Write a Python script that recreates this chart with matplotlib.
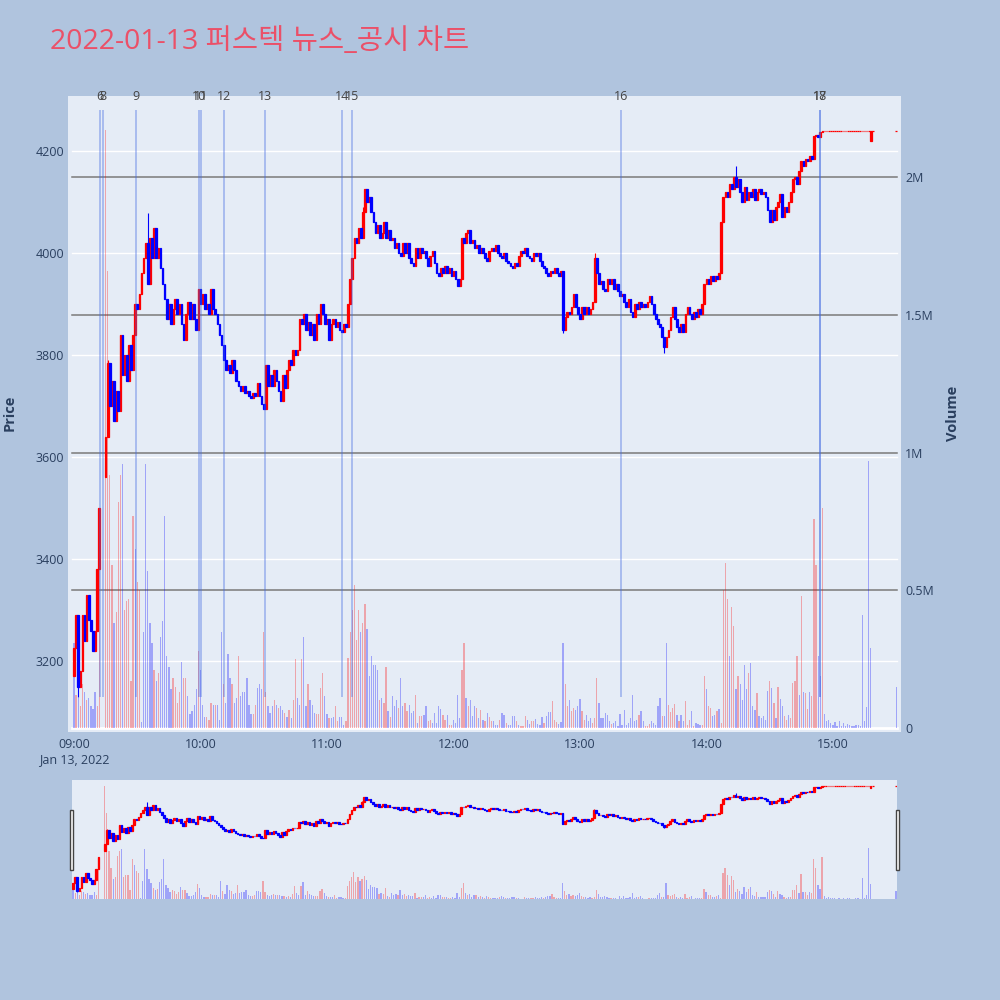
import numpy as np
import matplotlib.pyplot as plt
from matplotlib.transforms import blended_transform_factory
from matplotlib.patches import Rectangle

nan = np.nan

# minute closes, 09:00 .. 15:30 (index = minutes after 09:00)
close_px = [
    3225, 3290, 3150, 3180, 3290, 3240, 3330, 3280, 3260, 3220, 3260, 3380, 3500, nan, nan,
    3640, 3785, 3700, 3750, 3670, 3730, 3690, 3840, 3760, 3800, 3750, 3820, 3770, 3840, 3900,
    3890, 3920, 3960, 3990, 4020, 3940, 4030, 3990, 4050, 3990, 4010, 3970, 3940, 3910, 3870,
    3900, 3860, 3890, 3910, 3880, 3900, 3860, 3830, 3880, 3905, 3870, 3900, 3870, 3850, 3930,
    3900, 3920, 3890, 3900, 3880, 3930, 3890, 3880, 3860, 3840, 3820, 3790, 3770, 3780, 3765,
    3790, 3770, 3750, 3740, 3730, 3740, 3725, 3730, 3720, 3715, 3725, 3720, 3745, 3720, 3705,
    3695, 3780, 3740, 3760, 3740, 3770, 3750, 3730, 3710, 3760, 3735, 3770, 3790, 3780, 3810,
    3800, 3810, 3870, 3860, 3880, 3850, 3865, 3840, 3860, 3830, 3880, 3860, 3900, 3880, 3860,
    3870, 3830, 3860, 3870, 3855, 3865, 3850, 3845, 3860, 3855, 3900, 3950, 3990, 4030, 4020,
    4050, 4030, 4080, 4125, 4100, 4110, 4080, 4060, 4040, 4055, 4030, 4040, 4060, 4030, 4045,
    4025, 4030, 4010, 4020, 4000, 3995, 4020, 4000, 4020, 3990, 3980, 3975, 4010, 3990, 4010,
    4000, 4005, 3990, 3975, 3995, 4005, 3980, 3960, 3955, 3970, 3960, 3975, 3960, 3970, 3955,
    3965, 3950, 3935, 3950, 4030, 4020, 4040, 4045, 4020, 4025, 4010, 4015, 4000, 4010, 4000,
    3990, 3985, 4005, 4010, 4005, 4015, 4000, 3995, 3990, 4000, 3985, 3980, 3975, 3970, 3980,
    3975, 3995, 4005, 4000, 4010, 3995, 3990, 3985, 4000, 3995, 4000, 3985, 3975, 3970, 3960,
    3955, 3965, 3960, 3970, 3960, 3955, 3965, 3850, 3875, 3885, 3880, 3895, 3920, 3895, 3880,
    3870, 3895, 3880, 3895, 3880, 3890, 3905, 3990, 3960, 3940, 3945, 3930, 3925, 3950, 3940,
    3950, 3930, 3940, 3925, 3915, 3920, 3905, 3895, 3910, 3885, 3875, 3900, 3890, 3905, 3895,
    3900, 3895, 3905, 3915, 3900, 3880, 3870, 3860, 3855, 3835, 3815, 3835, 3850, 3875, 3895,
    3870, 3855, 3845, 3860, 3845, 3880, 3895, 3880, 3870, 3885, 3875, 3890, 3880, 3900, 3940,
    3950, 3940, 3955, 3945, 3955, 3950, 3960, 4060, 4110, 4120, 4110, 4135, 4125, 4150, 4130,
    4145, 4120, 4100, 4130, 4105, 4120, 4110, 4125, 4105, 4120, 4125, 4115, 4120, 4110, 4085,
    4060, 4085, 4065, 4090, 4100, 4115, 4070, 4090, 4080, 4100, 4120, 4145, 4150, 4135, 4160,
    4180, 4170, 4185, 4180, 4190, 4185, 4230, 4232, 4228, 4238, 4240, 4240, 4240, 4240, 4240,
    4240, 4240, 4240, 4240, 4240, 4240, 4240, 4240, 4240, 4240, 4240, 4240, 4240, 4240, 4240,
    4240, 4240, 4240, 4240, 4240, nan, nan, nan, nan, nan, nan, nan, nan, nan, nan,
    4240,
]
# opens that differ from the previous close (first trade, after VI halt, etc.)
open_fix = {0: 3170, 15: 3560, 378: 4220, 390: 4240}
wick_hi = {16: 3790, 35: 4078, 137: 4090, 247: 4000, 314: 4170}
wick_lo = {2: 3130, 15: 3560, 91: 3700, 232: 3843, 280: 3805}

# volume in millions of shares, colour r = up / b = down
vol_m = [
    0.31, 0.12, 0.11, 0.08, 0.16, 0.13, 0.10, 0.11, 0.08, 0.07, 0.13, 0.08, 0.80, nan, nan,
    2.17, 1.66, 0.92, 0.59, 0.38, 0.42, 0.82, 0.92, 0.96, 0.43, 0.46, 0.47, 0.17, 0.77, 0.65,
    0.53, 0.50, 0.02, 0.35, 0.96, 0.57, 0.38, 0.31, 0.21, 0.17, 0.20, 0.33, 0.39, 0.77, 0.26,
    0.22, 0.14, 0.18, 0.15, 0.09, 0.13, 0.24, 0.18, 0.18, 0.115, 0.05, 0.06, 0.085, 0.14, 0.28,
    0.21, 0.085, 0.04, 0.04, 0.03, 0.09, 0.085, 0.085, 0.085, 0.03, 0.35, 0.16, 0.09, 0.27, 0.18,
    0.16, 0.09, 0.11, 0.26, 0.115, 0.13, 0.13, 0.18, 0.085, 0.05, 0.05, 0.085, 0.145, 0.16, 0.14,
    0.35, 0.13, 0.08, 0.055, 0.08, 0.10, 0.085, 0.073, 0.08, 0.067, 0.055, 0.04, 0.067, 0.036, 0.10,
    0.25, 0.11, 0.085, 0.25, 0.33, 0.08, 0.16, 0.10, 0.085, 0.055, 0.05, 0.05, 0.145, 0.20, 0.115,
    0.05, 0.036, 0.036, 0.04, 0.08, 0.024, 0.04, 0.04, 0.012, 0.024, 0.255, 0.35, 0.43, 0.52, 0.32,
    0.43, 0.35, 0.38, 0.45, 0.36, 0.19, 0.26, 0.23, 0.23, 0.21, 0.10, 0.11, 0.09, 0.22, 0.06,
    0.04, 0.115, 0.08, 0.10, 0.073, 0.18, 0.08, 0.09, 0.06, 0.085, 0.055, 0.06, 0.12, 0.018, 0.042,
    0.042, 0.048, 0.08, 0.024, 0.03, 0.018, 0.055, 0.018, 0.08, 0.07, 0.048, 0.03, 0.048, 0.012, 0.012,
    0.03, 0.018, 0.12, 0.036, 0.21, 0.31, 0.11, 0.08, 0.10, 0.042, 0.08, 0.073, 0.036, 0.067, 0.03,
    0.024, 0.055, 0.04, 0.024, 0.024, 0.012, 0.012, 0.03, 0.055, 0.048, 0.018, 0.012, 0.012, 0.042, 0.045,
    0.024, 0.012, 0.006, 0.006, 0.045, 0.028, 0.016, 0.024, 0.024, 0.033, 0.016, 0.012, 0.04, 0.018, 0.042,
    0.057, 0.057, 0.097, 0.03, 0.02, 0.016, 0.02, 0.31, 0.16, 0.08, 0.10, 0.06, 0.073, 0.064, 0.08,
    0.106, 0.06, 0.03, 0.048, 0.024, 0.036, 0.018, 0.036, 0.18, 0.091, 0.036, 0.036, 0.055, 0.048, 0.024,
    0.016, 0.018, 0.024, 0.008, 0.052, 0.012, 0.067, 0.012, 0.018, 0.036, 0.118, 0.024, 0.03, 0.048, 0.06,
    0.024, 0.006, 0.008, 0.016, 0.024, 0.018, 0.012, 0.08, 0.11, 0.042, 0.045, 0.31, 0.085, 0.057, 0.073,
    0.088, 0.048, 0.024, 0.048, 0.024, 0.097, 0.012, 0.03, 0.06, 0.006, 0.018, 0.016, 0.012, 0.012, 0.19,
    0.14, 0.08, 0.073, 0.042, 0.048, 0.06, 0.07, 0.018, 0.50, 0.60, 0.47, 0.26, 0.44, 0.37, 0.14,
    0.19, 0.16, 0.10, 0.23, 0.14, 0.20, 0.236, 0.08, 0.067, 0.127, 0.045, 0.036, 0.045, 0.03, 0.136,
    0.17, 0.145, 0.09, 0.036, 0.15, 0.105, 0.08, 0.042, 0.028, 0.048, 0.036, 0.165, 0.17, 0.26, 0.12,
    0.48, 0.13, 0.127, 0.07, 0.13, 0.117, 0.76, 0.59, 0.26, 0.19, 0.80, 0.052, 0.024, 0.03, 0.018,
    0.012, 0.022, 0.008, 0.027, 0.008, 0.018, 0.008, 0.016, 0.012, 0.008, 0.008, 0.011, 0.011, 0.008, 0.41,
    0.027, 0.075, 0.97, 0.29, nan, nan, nan, nan, nan, nan, nan, nan, nan, nan, nan,
    0.15,
]
vol_col = (
    "brbrrbrbbbbrr--" "rrrrbrrrbrrrrrb" "rrbbbbbbrbrbbbb" "bbrrrrbrrbbbbbr"
    "bbbrrrbrbbbrbbb" "rbbrbbbbbbrrbbb" "rrbbbrbrbbrbrbr" "rbbrbbrbbbrrrrb"
    "brbbrrbbbrrrrrr" "rbrrbbbbbbrbrrb" "rbbbrbbrrbbbrbr" "rbbrrbbbbbrrbrr"
    "bbbbrrbrbbbrbrb" "rbrrbbbrbbrbbbb" "rbrrrbbrrbbbbrb" "bbrrrbbbrrbrrbb"
    "brrbbbrrrbbbbbb" "rbbbbbbbbbbbbrb" "brrrbbbbbrbbrrr" "rbrbbrrrbrbbbrr"
    "brrbbrbrrrrbrrb" "rbbbbrbbbrbbbbb" "rbrbrbbrrbrrrrb" "rbrrbrrrbbrbbbb"
    "bbbbbbbbbbbbbbb" "bbbb-----------" "b"
)

news_min = [12.4, 13.6, 29.4, 59.5, 60.2, 71.0, 90.8, 127.3, 132.0, 259.5, 353.8, 354.1]
news_lbl = ['6', '8', '9', '10', '11', '12', '13', '14', '15', '16', '17', '18']

hour_ticks = [0, 60, 120, 180, 240, 300, 360]
hour_lbls = ['09:00\nJan 13, 2022', '10:00', '11:00', '12:00', '13:00', '14:00', '15:00']

RED, BLUE = '#ff0000', '#0000ff'
TXT = '#2a3f5f'
plt.rcParams['font.family'] = ['Open Sans', 'Noto Sans CJK KR', 'DejaVu Sans']

minutes = np.arange(len(close_px))
close = np.array(close_px, float)
opn = np.full_like(close, nan)
prev = nan
for i, c in enumerate(close):
    if np.isnan(c):
        continue
    opn[i] = open_fix.get(i, prev)
    prev = c
high = np.fmax(opn, close)
low = np.fmin(opn, close)
for k, v in wick_hi.items():
    high[k] = v
for k, v in wick_lo.items():
    low[k] = v
vol = np.array(vol_m, float) * 1e6
vcol = np.array(list(vol_col))


def draw_panel(axp, axv):
    ok = ~np.isnan(close)
    up = close >= opn
    for m, col in ((ok & up, RED), (ok & ~up, BLUE)):
        x = minutes[m]
        axp.vlines(x, low[m], high[m], color=col, lw=0.8, zorder=3)
        axp.bar(x, np.abs(close - opn)[m], bottom=np.fmin(opn, close)[m],
                width=0.8, color=col, edgecolor=col, lw=0.9, zorder=3)
    for key, col in (('r', RED), ('b', BLUE)):
        m = (vcol == key) & ~np.isnan(vol)
        axv.bar(minutes[m], vol[m], width=0.6, color=col, alpha=0.3, lw=0, zorder=2)


fig = plt.figure(figsize=(10, 10), dpi=100, facecolor='#b0c4de')

# main panel: volume axis underneath, price axis on top
rect = [0.068, 0.268, 0.833, 0.636]
axv = fig.add_axes(rect, facecolor='#e5ecf6')
axp = fig.add_axes(rect, sharex=axv)
axp.patch.set_visible(False)

axp.set_xlim(-2.85, 392.3)
axp.set_ylim(3061, 4308)
axv.set_ylim(-0.0145e6, 2.294e6)

gridtr = blended_transform_factory(axv.transAxes, axp.transData)
for p in range(3200, 4201, 200):
    axv.plot([0.005, 0.995], [p, p], color='white', lw=1, transform=gridtr, zorder=0.5)
for v in [0.5e6, 1e6, 1.5e6, 2e6]:
    axv.axhline(v, xmin=0.005, xmax=0.995, color='#7a7a7a', lw=1.1, zorder=0.6)
axv.axhline(0, xmin=0.005, xmax=0.995, color='white', lw=2, zorder=0.6)

draw_panel(axp, axv)

for m, lb in zip(news_min, news_lbl):
    axp.vlines(m, 3130, 4280, color='#4169e1', lw=1.3, alpha=0.4, zorder=5)
    axp.text(m, 1.0, lb, transform=blended_transform_factory(axp.transData, axp.transAxes),
             ha='center', va='center', fontsize=9, color='#444444', zorder=6)

for a in (axv, axp):
    for s in a.spines.values():
        s.set_visible(False)
    a.tick_params(length=0, labelsize=9, labelcolor=TXT)

axp.set_yticks(range(3200, 4201, 200))
axp.tick_params(axis='y', pad=3)
axv.yaxis.tick_right()
axv.set_yticks([0, 0.5e6, 1e6, 1.5e6, 2e6])
axv.set_yticklabels(['0', '0.5M', '1M', '1.5M', '2M'])
axv.tick_params(axis='y', pad=3)
axp.set_xticks(hour_ticks)
axp.set_xticklabels(hour_lbls, linespacing=1.3)
axp.tick_params(axis='x', pad=4)
plt.setp(axv.get_xticklabels(), visible=False)

fig.text(0.010, 0.587, 'Price', rotation=90, ha='center', va='center',
         fontsize=10.5, fontweight='bold', color=TXT)
fig.text(0.953, 0.587, 'Volume', rotation=90, ha='center', va='center',
         fontsize=10.5, fontweight='bold', color=TXT)
fig.text(0.05, 0.958, '2022-01-13 퍼스텍 뉴스_공시 차트', ha='left', va='center',
         fontsize=20.5, color='#eb5068')

# range slider
srect = [0.072, 0.101, 0.825, 0.119]
sv = fig.add_axes(srect, facecolor='#e5ecf6')
sp = fig.add_axes(srect, sharex=sv)
sp.patch.set_visible(False)
sp.set_xlim(-0.5, 390.5)
sp.set_ylim(3061, 4308)
sv.set_ylim(0, 2.285e6)
draw_panel(sp, sv)
for a in (sv, sp):
    a.set_xticks([])
    a.set_yticks([])
    for s in a.spines.values():
        s.set_visible(False)
for hx in (0.0695, 0.8955):
    fig.patches.append(Rectangle((hx, 0.130), 0.0035, 0.060, transform=fig.transFigure,
                                 facecolor='white', edgecolor='#444444', lw=1))

fig.savefig('out.png', dpi=100, facecolor=fig.get_facecolor())
